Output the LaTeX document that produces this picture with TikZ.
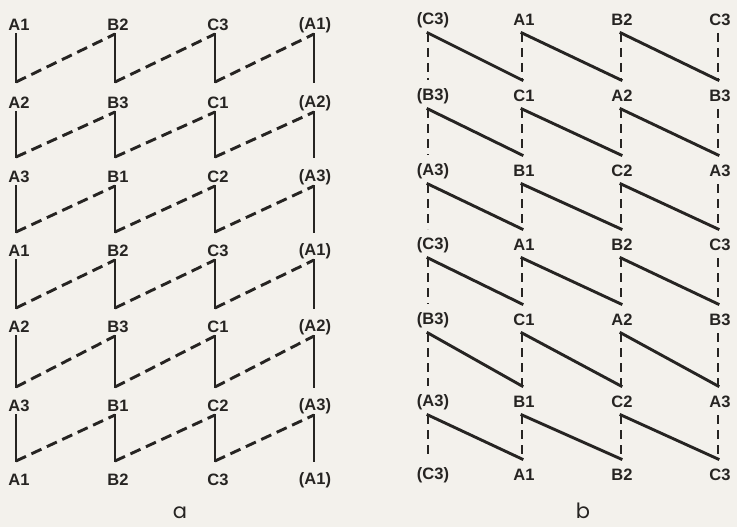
\documentclass[tikz,border=0pt]{standalone}
\usepackage{fontspec}
\setmainfont{Liberation Sans}
\newfontfamily\capfont{Poppins}
\begin{document}
\begin{tikzpicture}[x=1pt,y=-1pt,
  lab/.style={font=\bfseries\fontsize{16.5}{16.5}\selectfont, inner sep=0pt, anchor=center, text=ink},
  captext/.style={font=\capfont\fontsize{21}{21}\selectfont, inner sep=0pt, text height=12pt, text depth=0pt, anchor=base, text=ink},
  solidl/.style={line width=2.9pt, line cap=rect, draw=ink},
  dashl/.style={line width=2.9pt, dash pattern=on 11pt off 6pt, draw=ink},
  dashv/.style={line width=2.6pt, dash pattern=on 9pt off 6pt, draw=ink}]
\definecolor{ink}{RGB}{38,36,34}
\definecolor{paper}{RGB}{243,241,236}
\fill[paper] (0,0) rectangle (737,527);
\useasboundingbox (0,0) rectangle (737,527);

% ---------- part a: labels ----------
\foreach \r/\y/\ta/\tb/\tc/\td in {
  1/25/A1/B2/C3/{(A1)},
  2/103/A2/B3/C1/{(A2)},
  3/177/A3/B1/C2/{(A3)},
  4/251/A1/B2/C3/{(A1)},
  5/327/A2/B3/C1/{(A2)},
  6/406/A3/B1/C2/{(A3)},
  7/480/A1/B2/C3/{(A1)}}{
  \node[lab] (la-\r-0) at (19,\y) {\ta};
  \node[lab] (la-\r-1) at (118,\y) {\tb};
  \node[lab] (la-\r-2) at (218,\y) {\tc};
  \node[lab] (la-\r-3) at (315,\y) {\td};
}
% ---------- part a: band end points ----------
\foreach \r/\t/\b in {1/34/82, 2/112/157, 3/186/232, 4/260/308, 5/336/387, 6/415/461}{
  \foreach \i/\x in {0/16,1/115,2/215,3/314}{
    \coordinate (ta-\r-\i) at (\x,\t);
    \coordinate (ba-\r-\i) at (\x,\b);
  }
}
% ---------- part a: connectors ----------
\foreach \r in {1,...,6}{
  \foreach \i in {0,...,3}{
    \draw[solidl] (ta-\r-\i) -- (ba-\r-\i);
  }
  \foreach \i [evaluate=\i as \j using int(\i+1)] in {0,1,2}{
    \draw[dashl] (ba-\r-\i) -- (ta-\r-\j);
  }
}

% ---------- part b: labels ----------
\foreach \r/\y/\ta/\tb/\tc/\td in {
  1/20/{(C3)}/A1/B2/C3,
  2/96/{(B3)}/C1/A2/B3,
  3/171/{(A3)}/B1/C2/A3,
  4/245/{(C3)}/A1/B2/C3,
  5/320/{(B3)}/C1/A2/B3,
  6/402/{(A3)}/B1/C2/A3,
  7/475/{(C3)}/A1/B2/C3}{
  \node[lab] (lb-\r-0) at (433,\y) {\ta};
  \node[lab] (lb-\r-1) at (524,\y) {\tb};
  \node[lab] (lb-\r-2) at (622,\y) {\tc};
  \node[lab] (lb-\r-3) at (720,\y) {\td};
}
% ---------- part b: band end points ----------
\foreach \r/\t/\b in {1/33/80, 2/109/155, 3/184/229, 4/258/304, 5/333/386, 6/415/459}{
  \foreach \i/\x in {0/428,1/522,2/621,3/718}{
    \coordinate (tb-\r-\i) at (\x,\t);
    \coordinate (bb-\r-\i) at (\x,\b);
  }
}
% ---------- part b: connectors ----------
\foreach \r in {1,...,6}{
  \foreach \i in {0,...,3}{
    \draw[dashv] (tb-\r-\i) -- (bb-\r-\i);
  }
  \foreach \i [evaluate=\i as \j using int(\i+1)] in {0,1,2}{
    \draw[solidl] (tb-\r-\i) -- (bb-\r-\j);
  }
}

% ---------- captions ----------
\node[captext] (capa) at (180,518) {a};
\node[captext] (capb) at (583,518) {b};
\end{tikzpicture}
\end{document}
